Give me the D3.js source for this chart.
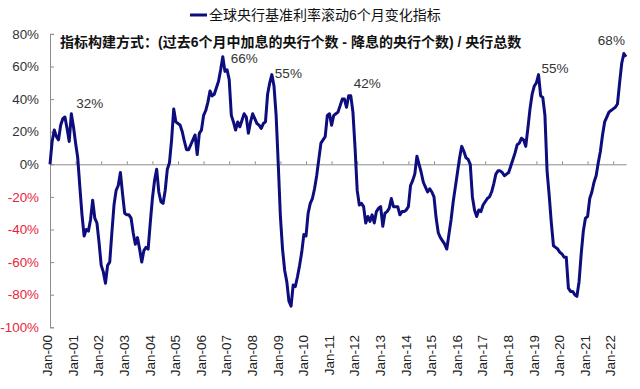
<!DOCTYPE html>
<html>
<head>
<meta charset="utf-8">
<script src="https://cdn.jsdelivr.net/npm/d3@7"></script>
<style>
	body { margin: 0; background: #fff; }
	svg { display: block; font-family: "Liberation Sans", Arial, "Noto Sans CJK SC", sans-serif; }
</style>
</head>
<body>
<script>
//////////////////////////////////////////////
// Data //////////////////////////////////////
//////////////////////////////////////////////
// monthly index values (%), Jan-2000 .. Jul-2022
var values2000s = [
	0, 14, 21, 17, 15, 24, 28, 29, 22, 14, 31, 23,            // 2000
	13, 4, -14, -31, -44, -40, -41, -34, -22, -33, -36, -48,  // 2001
	-62, -66, -73, -62, -60, -42, -25, -16, -13, -5, -18, -30, // 2002
	-31, -31, -33, -42, -49, -45, -52, -60, -53, -51, -52, -36, // 2003
	-21, -10, -3, -17, -23, -24, -16, -3, 1, 15, 34, 26,      // 2004
	25, 24, 20, 14, 9, 9, 12, 15, 18, 6, 19, 21,              // 2005
	30, 33, 38, 45, 42, 43, 47, 51, 58, 66, 57, 58,           // 2006
	52, 30, 26, 21, 26, 23, 27, 31, 29, 19, 26, 31,           // 2007
	28, 25, 24, 22, 25, 26, 43, 50, 55, 48, 30, 0,            // 2008
	-32, -52, -65, -72, -84, -87, -74, -75, -69, -62, -54, -43 // 2009
];
var values2010s = [
	-44, -30, -24, -21, -15, -7, 3, 13, 15, 17, 30, 31,       // 2010
	24, 30, 31, 32, 36, 40, 40, 35, 42, 42, 32, 10,           // 2011
	-16, -25, -24, -26, -36, -32, -35, -31, -36, -29, -27, -26, // 2012
	-38, -30, -29, -27, -21, -26, -26, -26, -31, -29, -29, -28, // 2013
	-26, -13, -10, -6, 5, 0, -5, -11, -14, -17, -15, -17,     // 2014
	-20, -33, -42, -45, -47, -49, -52, -43, -34, -23, -14, -5, // 2015
	4, 11, 8, 4, 3, 0, -20, -28, -32, -28, -29, -25,          // 2016
	-23, -21, -20, -17, -12, -6, -4, -4, -5, -7, -6, -5,      // 2017
	-1, 3, 7, 12, 13, 16, 15, 11, 22, 34, 43, 48,             // 2018
	50, 55, 42, 41, 30, -4, -19, -36, -50, -51, -52, -54      // 2019
];
var values2020s = [
	-55, -57, -57, -76, -78, -78, -80, -81, -72, -55, -41, -33, // 2020
	-32, -21, -17, -11, -7, 1, 8, 18, 26, 29, 32, 33,         // 2021
	34, 35, 37, 50, 62, 68, 66                                 // 2022
];
var values = values2000s.concat(values2010s, values2020s);

// category labels, one per January
var yearLabels = ["Jan-00", "Jan-01", "Jan-02", "Jan-03", "Jan-04", "Jan-05", "Jan-06", "Jan-07",
	"Jan-08", "Jan-09", "Jan-10", "Jan-11", "Jan-12", "Jan-13", "Jan-14", "Jan-15", "Jan-16",
	"Jan-17", "Jan-18", "Jan-19", "Jan-20", "Jan-21", "Jan-22"];

// y tick values (%)
var yTicks = [-100, -80, -60, -40, -20, 0, 20, 40, 60, 80];

// peak callouts: month index + text
var peakIndex = [10, 81, 104, 141, 229, 269];
var peakText = ["32%", "66%", "55%", "42%", "55%", "68%"];

var seriesName = "全球央行基准利率滚动6个月变化指标";
var noteText = "指标构建方式：(过去6个月中加息的央行个数 - 降息的央行个数) / 央行总数";

//////////////////////////////////////////////
// Chart Config /////////////////////////////
//////////////////////////////////////////////
var width = 640, height = 389;
var lineColor = "#0d0d7d";
var axisColor = "#8c8c8c";
var negColor = "#e8243c";

var xScale = d3.scaleLinear().domain([0, values.length - 1]).range([50, 626]);
var yScale = d3.scaleLinear().domain([-100, 80]).range([327.3, 33.9]);

var svg = d3.select("body").append("svg")
	.attr("width", width)
	.attr("height", height);

//////////////////////////////////////////////
// Axes //////////////////////////////////////
//////////////////////////////////////////////
// y axis, ticks pointing into the plot
var yAxis = d3.axisLeft(yScale)
	.tickValues(yTicks)
	.tickSizeInner(-4)
	.tickSizeOuter(-4)
	.tickPadding(11)
	.tickFormat(function(d) { return d + "%"; });

var yAxisEl = svg.append("g")
	.attr("transform", "translate(" + xScale(0) + ",0)")
	.call(yAxis);
yAxisEl.select(".domain").attr("stroke", axisColor);
yAxisEl.selectAll(".tick line").attr("stroke", axisColor);
yAxisEl.selectAll(".tick text")
	.style("font-size", "13.4px")
	.attr("fill", function(d) { return d < 0 ? negColor : "#333"; });

// x axis on the zero line
var yearTicks = yearLabels.map(function(d, i) { return i * 12; });
var xAxis = d3.axisBottom(xScale)
	.tickValues(yearTicks)
	.tickSizeInner(-3)
	.tickSizeOuter(0)
	.tickFormat("");

var xAxisEl = svg.append("g")
	.attr("transform", "translate(0," + yScale(0) + ")")
	.call(xAxis);
xAxisEl.select(".domain").attr("stroke", axisColor);
xAxisEl.selectAll(".tick line").attr("stroke", axisColor);

// year labels below the plot, rotated
var xLabelAxis = d3.axisBottom(xScale)
	.tickValues(yearTicks)
	.tickSize(0)
	.tickFormat(function(d, i) { return yearLabels[i]; });

var xLabelEl = svg.append("g")
	.attr("transform", "translate(0,335)")
	.call(xLabelAxis);
xLabelEl.select(".domain").remove();
xLabelEl.selectAll(".tick text")
	.attr("transform", "rotate(-90)")
	.attr("x", 0)
	.attr("y", -3)
	.attr("dy", "0.35em")
	.style("text-anchor", "end")
	.style("font-size", "13.5px")
	.attr("fill", "#222");

//////////////////////////////////////////////
// Drawing ///////////////////////////////////
//////////////////////////////////////////////
var line = d3.line()
	.x(function(d, i) { return xScale(i); })
	.y(function(d) { return yScale(d); });

svg.append("path").datum(values)
	.attr("d", line)
	.style("fill", "none")
	.style("stroke", lineColor)
	.style("stroke-width", "3px")
	.style("stroke-linejoin", "round");

// peak callouts
var calloutOffset = [[5, -6], [8, 6], [3, 3], [3, -8], [3, -2], [-26, -8]];
svg.selectAll(".peak").data(peakIndex).enter().append("text")
	.attr("class", "peak")
	.attr("x", function(d, i) { return xScale(d) + calloutOffset[i][0]; })
	.attr("y", function(d, i) { return yScale(values[d]) + calloutOffset[i][1]; })
	.style("font-size", "13.5px")
	.attr("fill", "#333")
	.text(function(d, i) { return peakText[i]; });

// method note
svg.append("text")
	.attr("x", 60)
	.attr("y", 47)
	.style("font-size", "14px")
	.style("font-weight", "bold")
	.attr("fill", "#111")
	.text(noteText);

// legend
svg.append("line")
	.attr("x1", 190).attr("x2", 207)
	.attr("y1", 15).attr("y2", 15)
	.style("stroke", lineColor)
	.style("stroke-width", "3px");
svg.append("text")
	.attr("x", 209)
	.attr("y", 20)
	.style("font-size", "14px")
	.attr("fill", "#111")
	.text(seriesName);
</script>
</body>
</html>
